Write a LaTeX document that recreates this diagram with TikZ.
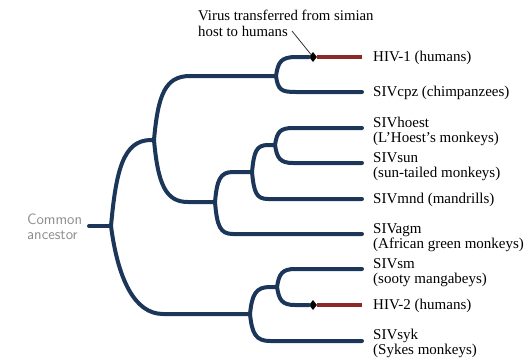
\documentclass[tikz,border=0pt]{standalone}
\usepackage{fontspec}
\setmainfont{Liberation Serif}
\usetikzlibrary{shapes.geometric}
\definecolor{navy}{RGB}{28,54,90}
\definecolor{hivred}{RGB}{140,40,40}
\definecolor{ancgray}{RGB}{140,140,140}
\begin{document}
\begin{tikzpicture}[x=1pt,y=-1pt,
  br/.style={draw=navy,line width=4pt,line cap=round},
  hv/.style={draw=hivred,line width=3.5pt},
  lab/.style={anchor=west,inner sep=0pt,align=left,font=\fontsize{15}{15}\selectfont},
  dia/.style={diamond,fill=black,inner sep=0pt,minimum width=8pt,minimum height=10pt}]
\useasboundingbox (0,0) rectangle (528,357);
% internal nodes of the tree
\coordinate (stub) at (89,226);
\coordinate (root) at (111,226);
\coordinate (A) at (154,140);
\coordinate (G) at (276,76);
\coordinate (B) at (215,202);
\coordinate (C) at (252,172);
\coordinate (D) at (275,145);
\coordinate (F) at (250,314);
\coordinate (E) at (277,287);
\foreach \n/\y in {1/57,2/92,3/128,4/163,5/199,6/234,7/269,8/305,9/341}
  \coordinate (e\n) at (362,\y);
\node[dia] (d1) at (313,57) {};
\node[dia] (d2) at (313,305) {};
% branches
\draw[br] (stub) -- (root);
\draw[br] (root) .. controls +(5,-55) and +(-28,0) .. ++(40,-86) -- (A);
\draw[br] (root) .. controls +(7,54) and +(-28,0) .. ++(52,88) -- (F);
\draw[br] (A) .. controls +(4,-45) and +(-25,0) .. ++(36,-64) -- (G);
\draw[br] (A) .. controls +(4,45) and +(-22,0) .. ++(34,62) -- (B);
\draw[br] (G) .. controls +(2,-14) and +(-15,0) .. ++(20,-19) -- (d1);
\draw[br] (G) .. controls +(2,14) and +(-15,0) .. ++(20,16) -- (e2);
\draw[br] (B) .. controls +(2,-22) and +(-13,0) .. ++(18,-30) -- (C);
\draw[br] (B) .. controls +(2,24) and +(-13,0) .. ++(18,32) -- (e6);
\draw[br] (C) .. controls +(2,-20) and +(-12,0) .. ++(16,-27) -- (D);
\draw[br] (C) .. controls +(2,20) and +(-12,0) .. ++(16,27) -- (e5);
\draw[br] (D) .. controls +(2,-13) and +(-13,0) .. ++(18,-17) -- (e3);
\draw[br] (D) .. controls +(2,13) and +(-13,0) .. ++(18,18) -- (e4);
\draw[br] (F) .. controls +(2,-20) and +(-14,0) .. ++(20,-27) -- (E);
\draw[br] (F) .. controls +(2,20) and +(-14,0) .. ++(20,27) -- (e9);
\draw[br] (E) .. controls +(2,-13) and +(-13,0) .. ++(18,-18) -- (e7);
\draw[br] (E) .. controls +(2,13) and +(-13,0) .. ++(18,18) -- (d2);
\draw[hv] (d1) -- (e1);
\draw[hv] (d2) -- (e8);
% labels
\node[lab] (t1) at (373,58.3) {HIV-1 (humans)};
\node[lab] (t2) at (373,93.3) {SIVcpz (chimpanzees)};
\node[lab] (t3) at (373,131.5) {SIVhoest\\(L’Hoest’s monkeys)};
\node[lab] (t4) at (373,166.5) {SIVsun\\(sun-tailed monkeys)};
\node[lab] (t5) at (373,200.3) {SIVmnd (mandrills)};
\node[lab] (t6) at (373,237.5) {SIVagm\\(African green monkeys)};
\node[lab] (t7) at (373,272.5) {SIVsm\\(sooty mangabeys)};
\node[lab] (t8) at (373,306.3) {HIV-2 (humans)};
\node[lab] (t9) at (373,343) {SIVsyk\\(Sykes monkeys)};
\node[anchor=west,inner sep=0pt,align=left,text=ancgray,font=\sffamily\fontsize{15}{15}\selectfont] (ca) at (27,227) {Common\\ancestor};
\node[anchor=west,inner sep=0pt,align=left,font=\fontsize{14.8}{16}\selectfont] (ann) at (198,23) {Virus transferred from simian\\host to humans};
\coordinate (lead) at (292,31);
\draw[black!80,line width=0.8pt] (lead) -- (d1);
\end{tikzpicture}
\end{document}
